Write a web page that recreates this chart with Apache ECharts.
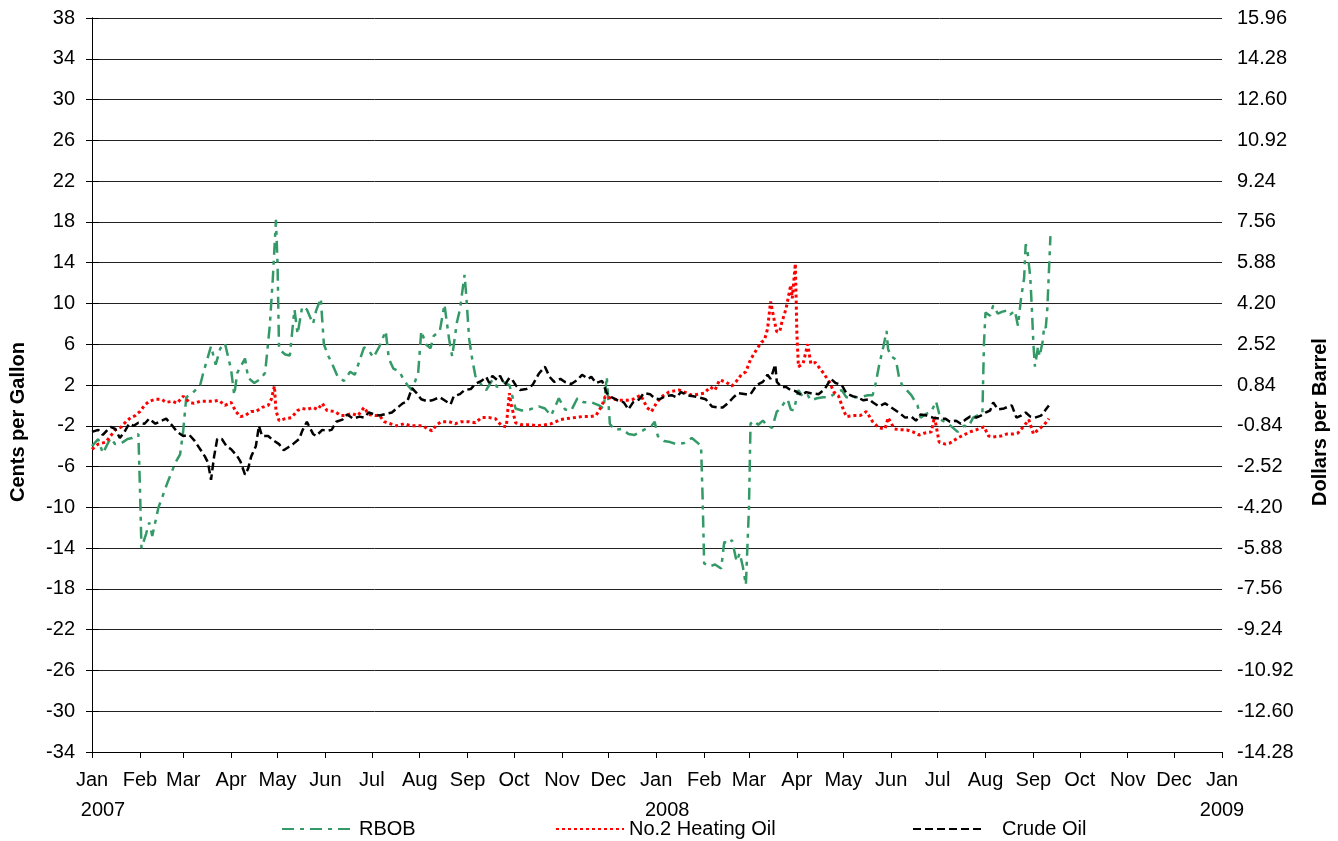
<!DOCTYPE html>
<html>
<head>
<meta charset="utf-8">
<script src="https://cdn.jsdelivr.net/npm/echarts@6/dist/echarts.min.js"></script>
<style>html,body{margin:0;padding:0;background:#fff;}#chart{width:1338px;height:841px;}</style>
</head>
<body>
<div id="chart"></div>
<script>
// x values: days since 2007-01-01
const monthNames = ['Jan','Feb','Mar','Apr','May','Jun','Jul','Aug','Sep','Oct','Nov','Dec'];
const yearLabels = ['2007','2008','2009'];
const leftTicks = [-34,-30,-26,-22,-18,-14,-10,-6,-2,2,6,10,14,18,22,26,30,34,38];
const rightTicks = [-14.28,-12.60,-10.92,-9.24,-7.56,-5.88,-4.20,-2.52,-0.84,0.84,2.52,4.20,5.88,7.56,9.24,10.92,12.60,14.28,15.96];

const rbob = [[0,-4.0],[4,-3.3],[7,-4.7],[12,-3.2],[15,-3.8],[19,-3.7],[23,-3.3],[26,-3.2],[30,-2.8],[31,-8],[32,-14.0],[35,-12.6],[37,-11.5],[39,-12.8],[43,-10.0],[45,-9.2],[49,-7.5],[54,-5.6],[57,-4.8],[59,-2.5],[61,0.8],[65,1.2],[70,2.0],[72,3.2],[77,5.8],[80,4.0],[83,5.6],[86,6.1],[90,3.5],[92,1.0],[94,3.2],[99,4.6],[101,2.7],[105,2.2],[109,2.6],[112,3.2],[115,7.8],[117,12.5],[119,18.2],[120,14],[121,5.5],[125,5.0],[128,4.9],[130,8.0],[131,9.4],[133,7.0],[136,9.7],[139,9.4],[143,8.0],[145,9.3],[148,10.5],[150,6.0],[153,4.8],[155,4.2],[159,2.8],[163,2.4],[167,3.3],[170,3.0],[174,4.8],[176,5.7],[179,5.4],[182,4.7],[186,5.8],[190,7.3],[192,4.6],[195,3.6],[199,3.3],[201,2.7],[204,2.0],[207,1.5],[211,3.2],[213,7.3],[216,6.0],[219,5.6],[221,6.8],[225,7.3],[228,9.9],[231,6.5],[233,4.8],[236,8.1],[238,9.4],[241,12.8],[242,11],[244,6.5],[246,4.5],[248,2.9],[251,2.2],[255,1.5],[259,2.5],[262,1.8],[266,2.3],[270,2.0],[274,-0.3],[278,-0.5],[283,-0.4],[289,-0.1],[293,-0.3],[297,-1.0],[302,0.7],[306,-0.4],[310,-0.5],[314,0.7],[318,0.3],[323,0.3],[328,0.0],[331,-0.3],[333,2.8],[335,-1.8],[338,-2.4],[343,-2.3],[347,-2.8],[351,-2.9],[357,-2.4],[362,-2.0],[364,-1.6],[366,-3.0],[370,-3.5],[374,-3.6],[378,-3.8],[383,-3.7],[388,-3.2],[392,-3.7],[394,-4.0],[395,-9],[396,-15.5],[400,-15.8],[403,-15.6],[407,-16.0],[409,-13.4],[412,-13.6],[414,-13.2],[417,-15.3],[419,-14.5],[421,-15.8],[423,-17.6],[425,-10],[426,-1.8],[428,-1.5],[431,-1.9],[434,-1.5],[437,-2.0],[440,-2.2],[443,-0.6],[445,-0.4],[448,0.3],[450,0.6],[452,-0.4],[454,-0.5],[457,1.5],[460,0.8],[463,1.0],[465,0.5],[469,0.7],[473,0.8],[477,0.8],[481,1.2],[485,1.5],[488,0.8],[492,0.8],[497,0.8],[502,1.0],[505,1.0],[507,2.2],[509,3.8],[512,5.8],[514,7.3],[515,5.5],[517,4.8],[520,4.5],[522,2.8],[524,2.0],[527,1.5],[530,1.0],[534,0.0],[536,-1.2],[540,-0.8],[543,-0.6],[546,0.4],[549,-1.4],[553,-1.7],[557,-2.2],[560,-2.6],[564,-2.0],[567,-2.1],[570,-1.2],[574,-0.9],[576,-0.8],[577,6],[578,9.1],[581,8.8],[583,9.8],[586,9.0],[589,9.2],[592,9.3],[594,8.9],[597,9.3],[599,7.8],[601,10.5],[603,12.5],[604,15.8],[605,15.4],[607,12.5],[608,9.5],[609,6.0],[610,3.8],[612,5.8],[613,4.8],[615,6.3],[616,7.8],[617,7.6],[618,9.5],[619,13],[620,16.6]];

const heatingOil = [[0,-4.3],[4,-3.8],[9,-3.6],[12,-3.0],[15,-2.4],[19,-2.1],[22,-1.6],[25,-1.2],[28,-1.0],[31,-0.6],[34,0.0],[37,0.4],[41,0.6],[45,0.6],[48,0.3],[52,0.4],[55,0.2],[59,0.9],[63,0.3],[66,0.2],[70,0.4],[74,0.4],[78,0.4],[82,0.5],[86,0.0],[90,0.3],[93,-0.6],[96,-1.1],[99,-1.0],[103,-0.6],[106,-0.6],[110,-0.2],[114,0.0],[116,0.6],[118,1.9],[119,-0.5],[121,-1.5],[125,-1.3],[129,-1.2],[133,-0.5],[136,-0.3],[139,-0.4],[143,-0.2],[146,-0.4],[149,0.2],[152,-0.5],[157,-0.6],[161,-1.0],[164,-1.0],[168,-0.8],[172,-1.0],[176,-0.2],[179,-0.9],[183,-1.0],[186,-1.0],[189,-1.6],[193,-1.8],[197,-2.0],[202,-1.8],[206,-2.0],[210,-2.0],[214,-2.0],[217,-2.3],[220,-2.5],[223,-1.9],[226,-1.6],[231,-1.6],[235,-1.8],[239,-1.6],[244,-1.6],[248,-1.7],[252,-1.2],[257,-1.2],[261,-1.3],[265,-2.0],[268,-2.1],[270,1.2],[271,0.2],[274,-1.7],[278,-1.9],[283,-1.9],[288,-2.0],[293,-1.9],[297,-1.8],[303,-1.4],[307,-1.3],[312,-1.2],[317,-1.1],[322,-1.1],[326,-1.0],[330,0.0],[332,0.9],[336,0.7],[341,0.5],[346,0.5],[350,0.6],[355,1.0],[359,-0.2],[362,-0.6],[365,0.2],[368,0.8],[373,1.3],[376,1.4],[380,1.5],[385,1.2],[388,1.0],[392,1.1],[396,1.2],[400,1.8],[403,1.5],[406,2.5],[410,2.3],[414,1.9],[417,2.4],[420,3.0],[423,3.3],[426,4.5],[430,5.5],[433,6.2],[435,6.4],[437,7.5],[439,10.2],[441,8.6],[443,7.2],[445,7.3],[446,8.0],[449,9.5],[452,11.8],[453,10.5],[455,13.9],[456,7.0],[457,3.8],[460,4.1],[463,6.0],[465,4.1],[468,4.2],[473,3.2],[477,2.3],[480,1.3],[483,0.9],[486,-0.4],[488,-1.1],[493,-1.0],[497,-1.0],[501,-0.6],[505,-1.6],[509,-2.2],[513,-2.3],[515,-1.2],[519,-2.3],[523,-2.4],[527,-2.4],[531,-2.6],[535,-2.9],[539,-2.7],[543,-2.6],[545,-1.1],[548,-3.6],[552,-3.8],[555,-3.7],[560,-3.2],[564,-2.9],[568,-2.6],[572,-2.4],[577,-2.1],[580,-3.0],[583,-3.1],[588,-3.0],[592,-2.8],[596,-2.8],[599,-2.7],[603,-2.0],[606,-1.4],[609,-2.8],[612,-2.4],[616,-1.9],[619,-1.3]];

const crudeOil = [[0,-2.6],[4,-2.4],[7,-2.9],[10,-2.4],[12,-2.1],[15,-2.3],[18,-3.2],[21,-2.6],[24,-1.8],[27,-2.0],[30,-1.7],[34,-1.8],[37,-1.3],[41,-1.8],[45,-1.5],[48,-1.3],[52,-2.0],[55,-2.6],[59,-3.0],[63,-2.9],[66,-3.4],[70,-4.3],[73,-5.0],[75,-5.6],[77,-7.3],[79,-5.0],[81,-3.3],[84,-3.3],[87,-4.0],[90,-4.3],[94,-5.0],[96,-5.5],[99,-6.8],[101,-6.2],[103,-5.0],[106,-4.0],[108,-2.0],[110,-3.0],[114,-3.0],[117,-3.4],[121,-3.8],[124,-4.4],[127,-4.1],[130,-3.8],[134,-3.3],[136,-2.5],[139,-1.6],[143,-2.8],[145,-3.0],[149,-2.4],[152,-2.5],[155,-2.4],[158,-1.6],[162,-1.4],[165,-0.9],[169,-1.3],[173,-1.1],[176,-1.2],[179,-0.7],[183,-0.9],[186,-1.0],[191,-0.8],[194,-0.7],[197,-0.3],[201,0.2],[204,0.4],[207,1.7],[210,1.2],[213,0.6],[217,0.4],[220,0.5],[225,0.8],[228,0.5],[232,0.1],[234,0.9],[238,1.1],[241,1.5],[245,1.6],[248,2.1],[252,2.4],[255,2.8],[257,2.2],[259,2.9],[262,2.5],[264,2.9],[267,2.0],[270,2.7],[272,2.5],[274,2.0],[277,1.5],[281,1.6],[285,2.0],[289,3.1],[293,3.8],[296,2.8],[299,2.3],[303,2.6],[306,2.3],[310,2.1],[314,2.5],[317,3.0],[321,2.6],[323,2.8],[326,2.2],[330,2.4],[333,1.2],[336,0.8],[340,0.5],[344,0.3],[347,-0.4],[350,0.3],[354,0.6],[357,1.2],[361,1.1],[364,0.7],[367,0.6],[371,0.9],[375,1.0],[378,0.8],[381,1.3],[385,1.0],[389,0.9],[392,0.8],[397,0.6],[401,-0.1],[405,-0.2],[408,-0.2],[412,0.3],[415,0.8],[418,1.2],[423,1.1],[426,1.1],[430,2.0],[434,2.3],[437,3.0],[439,2.6],[442,4.0],[443,2.3],[446,1.8],[449,1.8],[452,1.5],[455,1.4],[459,1.0],[462,1.3],[465,1.2],[470,1.1],[474,1.6],[478,2.6],[481,2.2],[485,2.0],[488,1.2],[492,0.9],[495,0.8],[499,0.5],[503,0.6],[505,0.3],[509,-0.1],[513,0.2],[516,-0.1],[519,-0.4],[522,-0.7],[526,-1.2],[530,-1.1],[533,-1.5],[536,-0.9],[540,-1.0],[544,-1.2],[548,-1.3],[552,-1.3],[555,-1.6],[559,-1.5],[562,-1.8],[565,-1.4],[568,-1.1],[572,-1.2],[575,-1.0],[578,-0.7],[581,-0.5],[583,0.3],[586,-0.4],[590,-0.3],[593,-0.1],[595,0.0],[598,-1.2],[601,-1.0],[604,-0.7],[607,-1.1],[610,-1.2],[614,-1.0],[617,-0.4],[619,0.0]];

const DAY = 86400000;
const base = Date.UTC(2007, 0, 1);
const monthStarts = [];
const monthLabels = {};
const yearStarts = [];
const yearText = {};
for (let i = 0; i <= 24; i++) {
  const d = Math.round((Date.UTC(2007, i, 1) - base) / DAY);
  monthStarts.push(d);
  monthLabels[d] = monthNames[i % 12];
  if (i % 12 === 0) {
    const k = i / 12;
    yearStarts.push(d);
    yearText[d] = k < 2 ? '{a|' + yearLabels[k] + '}' : '{b|' + yearLabels[k] + '}';
  }
}

const font = 'Liberation Sans, Arial, Helvetica, sans-serif';
const legendText = {fontFamily: font, fontSize: 20, color: '#000'};
const chart = echarts.init(document.getElementById('chart'), null, {renderer: 'canvas'});
chart.setOption({
  animation: false,
  backgroundColor: '#fff',
  grid: {left: 89, right: 116, top: 18, bottom: 89, containLabel: false},
  xAxis: [{
    type: 'value', min: 0, max: monthStarts[24],
    axisLine: {show: true, onZero: false, lineStyle: {color: '#000', width: 1}},
    axisTick: {show: true, customValues: monthStarts, length: 6, lineStyle: {color: '#000'}},
    axisLabel: {
      customValues: monthStarts, margin: 18, color: '#000', fontFamily: font, fontSize: 20,
      showMinLabel: true, showMaxLabel: true,
      formatter: v => monthLabels[Math.round(v)] || ''
    },
    splitLine: {show: false}
  }, {
    type: 'value', min: 0, max: monthStarts[24], position: 'bottom',
    axisLine: {show: false}, axisTick: {show: false}, splitLine: {show: false},
    axisLabel: {
      customValues: yearStarts, margin: 48, color: '#000', fontFamily: font, fontSize: 20,
      showMinLabel: true, showMaxLabel: true,
      formatter: v => yearText[Math.round(v)] || '',
      rich: {
        a: {fontSize: 20, fontFamily: font, color: '#000', padding: [0, 0, 0, 22]},
        b: {fontSize: 20, fontFamily: font, color: '#000'}
      }
    }
  }],
  yAxis: [{
    type: 'value', min: leftTicks[0], max: leftTicks[leftTicks.length - 1], position: 'left',
    name: 'Cents per Gallon', nameLocation: 'middle', nameRotate: 90, nameGap: 64,
    nameTextStyle: {fontFamily: font, fontSize: 20, fontWeight: 'bold', color: '#000', padding: [0, 74, 0, 0]},
    axisLine: {show: true, lineStyle: {color: '#000'}},
    axisTick: {show: true, customValues: leftTicks, length: 6, lineStyle: {color: '#000'}},
    axisLabel: {customValues: leftTicks, margin: 17, color: '#000', fontFamily: font, fontSize: 20},
    splitLine: {show: true, lineStyle: {color: '#222', width: 1}}
  }, {
    type: 'value', min: rightTicks[0], max: rightTicks[rightTicks.length - 1], position: 'right',
    name: 'Dollars per Barrel', nameLocation: 'middle', nameRotate: 90, nameGap: 88,
    nameTextStyle: {fontFamily: font, fontSize: 20, fontWeight: 'bold', color: '#000', padding: [0, 74, 0, 0]},
    axisLine: {show: true, lineStyle: {color: '#000'}},
    axisTick: {show: true, customValues: rightTicks, length: 7, lineStyle: {color: '#000'}},
    axisLabel: {customValues: rightTicks, margin: 15, color: '#000', fontFamily: font, fontSize: 20, formatter: v => v.toFixed(2)},
    splitLine: {show: false}
  }],
  legend: [
    {data: ['RBOB'], left: 281, top: 819, itemWidth: 68, itemHeight: 14, itemGap: 0, padding: 0, itemStyle: {opacity: 0}, textStyle: Object.assign({padding: [0, 0, 0, 4]}, legendText)},
    {data: ['No.2 Heating Oil'], left: 555, top: 819, itemWidth: 68, itemHeight: 14, itemGap: 0, padding: 0, itemStyle: {opacity: 0}, textStyle: Object.assign({padding: [0, 0, 0, 0]}, legendText)},
    {data: ['Crude Oil'], left: 912, top: 819, itemWidth: 68, itemHeight: 14, itemGap: 0, padding: 0, itemStyle: {opacity: 0}, textStyle: Object.assign({padding: [0, 0, 0, 16]}, legendText)}
  ],
  series: [
    {name: 'RBOB', type: 'line', data: rbob, showSymbol: false, symbol: 'none', z: 3,
     lineStyle: {color: '#339966', width: 2.5, type: [12, 6, 4, 6]}, itemStyle: {color: '#339966'}},
    {name: 'No.2 Heating Oil', type: 'line', data: heatingOil, showSymbol: false, symbol: 'none', z: 4,
     lineStyle: {color: '#ff0000', width: 3, type: [3, 3]}, itemStyle: {color: '#ff0000'}},
    {name: 'Crude Oil', type: 'line', data: crudeOil, showSymbol: false, symbol: 'none', z: 5,
     lineStyle: {color: '#000000', width: 2.5, type: [8, 4]}, itemStyle: {color: '#000000'}}
  ]
});
</script>
</body>
</html>
